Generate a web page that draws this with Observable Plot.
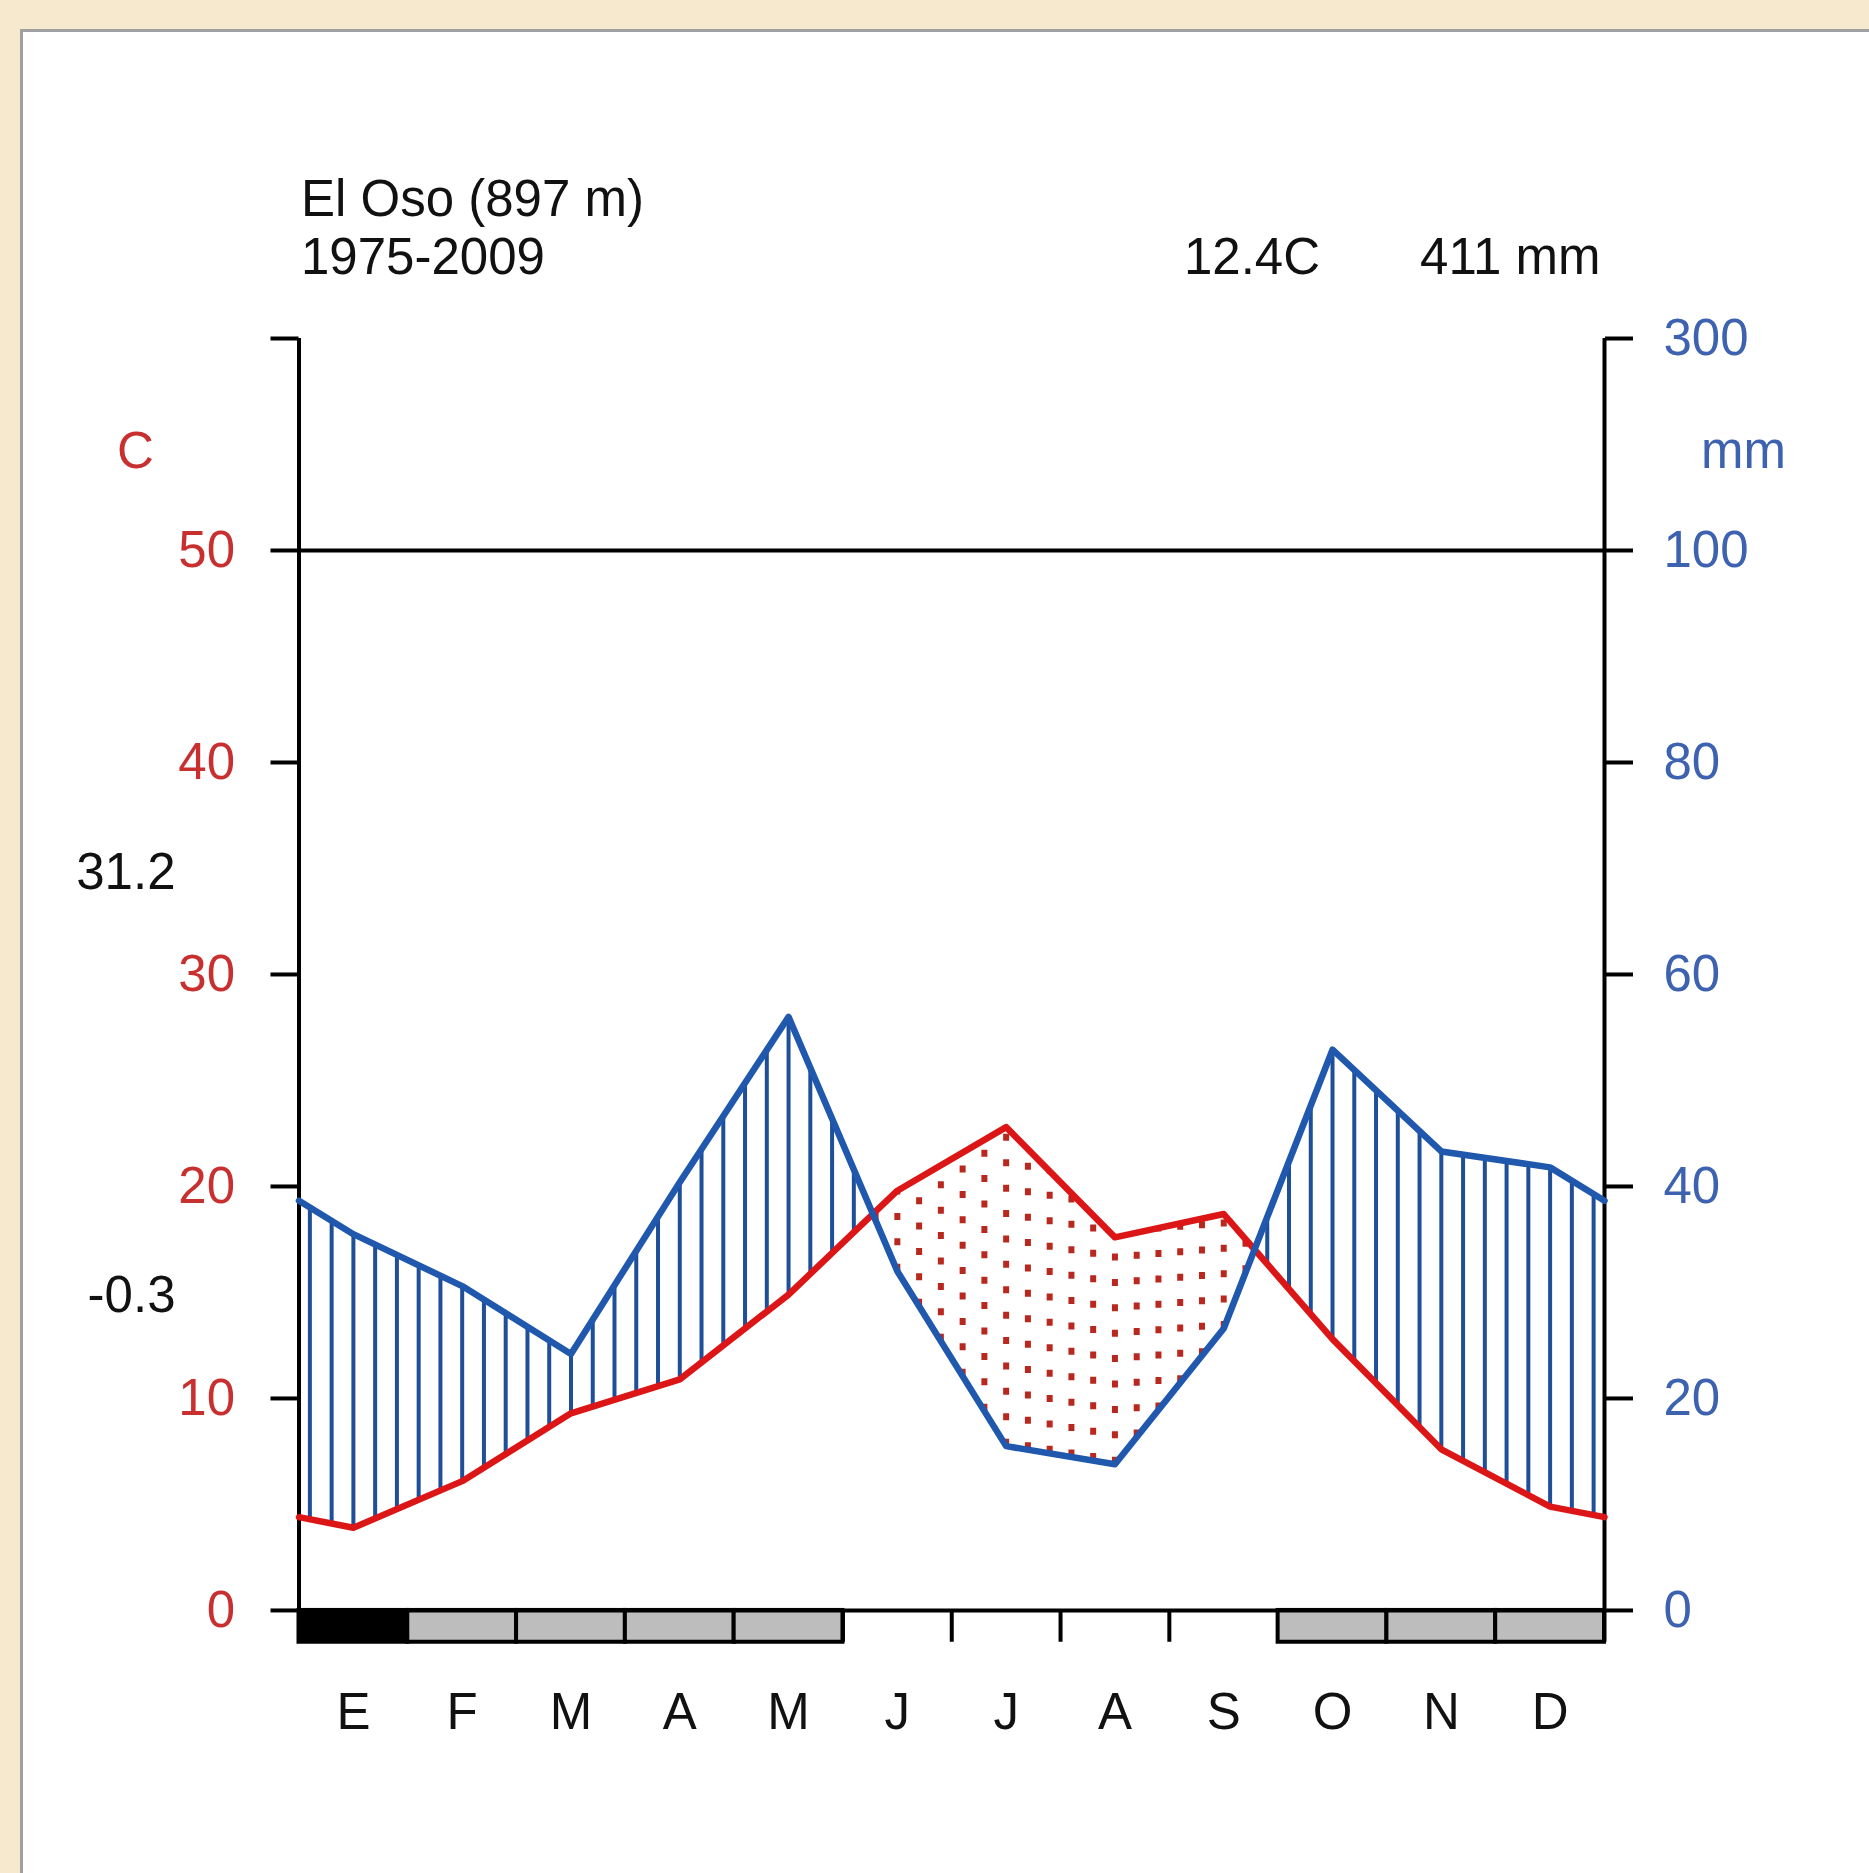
<!DOCTYPE html>
<html>
<head>
<meta charset="utf-8">
<script src="https://cdn.jsdelivr.net/npm/d3@7"></script>
<script src="https://cdn.jsdelivr.net/npm/@observablehq/plot@0.6"></script>
<style>
  html, body { margin: 0; padding: 0; background: #f7e9cd; }
  #wrap { position: relative; width: 1869px; height: 1873px; overflow: hidden; }
  #panel { position: absolute; left: 20px; top: 29px; width: 1900px; height: 1900px; background: #ffffff;
           border-left: 3px solid #a0a0a0; border-top: 3px solid #a0a0a0; }
  #chart { position: absolute; left: 0; top: 0; }
</style>
</head>
<body>
<div id="wrap"><div id="panel"></div><div id="chart"></div></div>
<script>
// ---- data ----
const months = ["E", "F", "M", "A", "M", "J", "J", "A", "S", "O", "N", "D"];
const temperature = [3.9, 6.1, 9.3, 10.9, 14.9, 19.8, 22.8, 17.6, 18.7, 12.8, 7.6, 4.9];      // °C
const precipitation = [35.5, 30.6, 24.2, 40.4, 56.0, 32.0, 15.5, 13.8, 26.6, 52.9, 43.3, 41.8]; // mm
const frost = [2, 1, 1, 1, 1, 0, 0, 0, 0, 1, 1, 1]; // 2 = sure frost, 1 = probable frost, 0 = none
const tempTicks = [0, 10, 20, 30, 40, 50, 60];
const tempLabels = [0, 10, 20, 30, 40, 50];
const station = "El Oso (897 m)";
const period = "1975-2009";
const meanTemp = "12.4C";
const totalPrec = "411 mm";
const absMaxLabel = "31.2";
const minColdLabel = "-0.3";

// ---- styling ----
const RED = "#dc1616";
const DOT = "#b8281f";
const BLUE = "#1f58ad";
const HATCH = "#1f4f99";
const AXRED = "#c83030";
const AXBLUE = "#3d62b0";
const INK = "#111111";

// Walter-Lieth precipitation scale (mm -> °C units): 1:2 up to 100 mm, 1:20 above
const pScale = p => p <= 100 ? p / 2 : 50 + (p - 100) / 20;
const pLabel = t => t <= 50 ? t * 2 : 100 + (t - 50) * 20;

const tEdge = (temperature[0] + temperature[11]) / 2;
const pEdge = (precipitation[0] + precipitation[11]) / 2;
const xs = [0, ...months.map((_, i) => i + 0.5), 12];
const tPts = xs.map((x, i) => ({x, y: (i === 0 || i === 13) ? tEdge : temperature[i - 1]}));
const pPts = xs.map((x, i) => ({x, y: pScale((i === 0 || i === 13) ? pEdge : precipitation[i - 1])}));

function interp(pts, x) {
  for (let i = 0; i < pts.length - 1; i++) {
    if (x >= pts[i].x && x <= pts[i + 1].x) {
      const f = (x - pts[i].x) / (pts[i + 1].x - pts[i].x);
      return pts[i].y + f * (pts[i + 1].y - pts[i].y);
    }
  }
  return NaN;
}
// hatching grid: five vertical lines per month
const hatchX = d3.range(60).map(k => 0.1 + 0.2 * k);
const hatch = hatchX.map(x => ({x, t: interp(tPts, x), p: interp(pPts, x)}));

const frostRows = frost.map((f, i) => ({i, f})).filter(d => d.f > 0);
const boundaries = d3.range(13);
const centers = months.map((_, i) => i + 0.5);

const chart = Plot.plot({
  width: 1869,
  height: 1873,
  marginLeft: 298.5,
  marginRight: 265,
  marginTop: 338,
  marginBottom: 231.25,
  style: {background: "transparent", fontFamily: "'Liberation Sans', Arial, sans-serif", fontSize: "51px", color: INK, overflow: "visible"},
  x: {domain: [0, 12]},
  y: {domain: [-1.5, 60]},
  marks: [
    // frost strip
    Plot.ruleX(boundaries, {x: d => d, y1: -1.5, y2: 0, stroke: "black", strokeWidth: 4}),
    Plot.rect(frostRows, {x1: d => d.i, x2: d => d.i + 1, y1: -1.5, y2: 0,
      fill: d => d.f === 2 ? "black" : "#bdbdbd", stroke: "black", strokeWidth: 4}),
    // humid hatching and dry dots
    Plot.ruleX(hatch.filter(d => d.p > d.t), {x: "x", y1: "t", y2: "p", stroke: HATCH, strokeWidth: 4}),
    Plot.ruleX(hatch.filter(d => d.t > d.p), {x: "x", y1: "p", y2: "t", stroke: DOT, strokeWidth: 6, strokeDasharray: "7,18.4"}),
    // frame lines
    Plot.ruleY([0, 50], {y: d => d, x1: 0, x2: 12, stroke: "black", strokeWidth: 4}),
    Plot.ruleX([0, 12], {x: d => d, y1: 0, y2: 60, stroke: "black", strokeWidth: 4}),
    // curves
    Plot.line(tPts, {x: "x", y: "y", stroke: RED, strokeWidth: 6.5, strokeLinejoin: "round"}),
    Plot.line(pPts, {x: "x", y: "y", stroke: BLUE, strokeWidth: 6.5, strokeLinejoin: "round"}),
    // axes
    Plot.axisY({anchor: "left", ticks: tempTicks, tickSize: 28, tickFormat: () => "", strokeWidth: 4, color: "black", label: null}),
    Plot.axisY({anchor: "right", ticks: tempTicks, tickSize: 28, tickFormat: () => "", strokeWidth: 4, color: "black", label: null}),
    Plot.axisY({anchor: "left", ticks: tempLabels, tickSize: 0, tickPadding: 64, color: AXRED, label: null}),
    Plot.axisY({anchor: "right", ticks: tempTicks, tickSize: 0, tickPadding: 59, tickFormat: pLabel, color: AXBLUE, label: null}),
    Plot.axisX({anchor: "bottom", ticks: centers, tickSize: 0, tickPadding: 51, tickFormat: d => months[Math.floor(d)], color: INK, label: null}),
    // axis units
    Plot.text(["C"], {x: 0, y: 60, text: d => d, dx: -163.5, dy: 113, fill: AXRED}),
    Plot.text(["mm"], {x: 12, y: 60, text: d => d, dx: 139, dy: 113, fill: AXBLUE}),
    // extreme temperatures
    Plot.text([absMaxLabel], {x: 0, y: 60, text: d => d, dx: -123.5, dy: 534, textAnchor: "end", fill: INK}),
    Plot.text([minColdLabel], {x: 0, y: 60, text: d => d, dx: -123.5, dy: 957.5, textAnchor: "end", fill: INK}),
    // header
    Plot.text([station], {x: 0, y: 60, text: d => d, dx: 2, dy: -123, textAnchor: "start", lineAnchor: "bottom", fill: INK}),
    Plot.text([period], {x: 0, y: 60, text: d => d, dx: 2, dy: -65, textAnchor: "start", lineAnchor: "bottom", fill: INK}),
    Plot.text([meanTemp], {x: 12, y: 60, text: d => d, dx: -352.5, dy: -65, textAnchor: "middle", lineAnchor: "bottom", fill: INK}),
    Plot.text([totalPrec], {x: 12, y: 60, text: d => d, dx: -4, dy: -65, textAnchor: "end", lineAnchor: "bottom", fill: INK})
  ]
});
document.getElementById("chart").appendChild(chart);
</script>
</body>
</html>
